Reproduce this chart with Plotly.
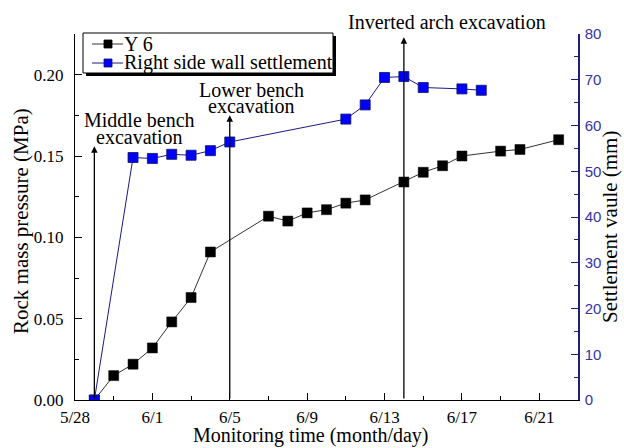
import plotly.graph_objects as go

YEAR = "2015"

# Y 6 rock mass pressure (MPa)
y6_dates = ["5/29", "5/30", "5/31", "6/1", "6/2", "6/3", "6/4", "6/7", "6/8", "6/9",
            "6/10", "6/11", "6/12", "6/14", "6/15", "6/16", "6/17", "6/19", "6/20", "6/22"]
y6_values = [0.000, 0.015, 0.022, 0.032, 0.048, 0.063, 0.091, 0.113, 0.110, 0.115,
             0.117, 0.121, 0.123, 0.134, 0.140, 0.144, 0.150, 0.153, 0.154, 0.160]

# Right side wall settlement (mm)
wall_dates = ["5/29", "5/31", "6/1", "6/2", "6/3", "6/4", "6/5", "6/11", "6/12",
              "6/13", "6/14", "6/15", "6/17", "6/18"]
wall_values = [0.0, 53.0, 52.8, 53.7, 53.5, 54.5, 56.4, 61.4, 64.5,
               70.5, 70.7, 68.3, 68.0, 67.7]

# Construction events: date and arrow tip (MPa)
event_dates = ["5/29", "6/5", "6/14"]
event_tips = [0.156, 0.175, 0.223]

series_names = ["Y 6", "Right side wall settlement"]
x_title = "Monitoring time (month/day)"
y_title = "Rock mass pressure (MPa)"
y2_title = "Settlement vaule (mm)"
x_start, x_end = "5/28", "6/23"


def to_date(md):
    m, d = md.split("/")
    return f"{YEAR}-{int(m):02d}-{int(d):02d}"


W, H = 624, 448
ML, MR, MT, MB = 75, 46, 34, 48
PW, PH = W - ML - MR, H - MT - MB


def px(x):
    return (x - ML) / PW


def py(y):
    return (H - MB - y) / PH


SERIF = "Liberation Serif, Times New Roman, serif"
NAVY = "#1f1f7a"
RIGHT_LABEL = "#3434a8"
Y6_LINE, Y6_MARK = "#333333", "black"
WALL_LINE, WALL_MARK, WALL_EDGE = "#1a1a80", "#0000ff", "#101060"

fig = go.Figure()
fig.add_trace(go.Scatter(
    x=[to_date(d) for d in y6_dates], y=y6_values, name=series_names[0],
    mode="lines+markers",
    line=dict(color=Y6_LINE, width=1),
    marker=dict(symbol="square", size=10, color=Y6_MARK, line=dict(color="black", width=0.5)),
    yaxis="y",
))
fig.add_trace(go.Scatter(
    x=[to_date(d) for d in wall_dates], y=wall_values, name=series_names[1],
    mode="lines+markers",
    line=dict(color=WALL_LINE, width=1),
    marker=dict(symbol="square", size=10, color=WALL_MARK, line=dict(color=WALL_EDGE, width=0.8)),
    yaxis="y2",
))

DAY = 86400000
fig.update_layout(
    width=W, height=H,
    margin=dict(l=ML, r=MR, t=MT, b=MB),
    paper_bgcolor="white", plot_bgcolor="white",
    font=dict(family=SERIF, size=17, color="black"),
    showlegend=False,
    xaxis=dict(
        type="date", automargin=False,
        range=[to_date(x_start), to_date(x_end)],
        tick0=to_date(x_start), dtick=4 * DAY, tickformat="%-m/%-d",
        ticks="inside", ticklen=7, tickcolor="black", tickwidth=1,
        minor=dict(ticks="inside", ticklen=4, dtick=2 * DAY, tick0=to_date(x_start), tickcolor="black"),
        showline=True, linecolor="black", linewidth=1,
        showgrid=False, zeroline=False,
        tickfont=dict(family=SERIF, size=17), ticklabelstandoff=2,
    ),
    yaxis=dict(
        automargin=False,
        range=[0, 0.225], dtick=0.05, tick0=0, tickformat=".2f",
        ticks="inside", ticklen=7, tickcolor="black",
        minor=dict(ticks="inside", ticklen=4, dtick=0.025, tickcolor="black"),
        showline=True, linecolor="black", linewidth=1,
        showgrid=False, zeroline=False,
        tickfont=dict(family=SERIF, size=17), ticklabelstandoff=7,
    ),
    yaxis2=dict(
        automargin=False,
        overlaying="y", side="right",
        range=[0, 80], dtick=10, tick0=0,
        ticks="inside", ticklen=7, tickcolor=NAVY,
        minor=dict(ticks="inside", ticklen=4, dtick=5, tickcolor=NAVY),
        showline=True, linecolor=NAVY, linewidth=1.5,
        showgrid=False, zeroline=False,
        tickfont=dict(family="Liberation Sans, Arial, sans-serif", size=15, color=RIGHT_LABEL),
        ticklabelstandoff=2,
    ),
)

# ---- axis titles ----
fig.add_annotation(x=px(311), y=py(448), xref="paper", yref="paper", showarrow=False,
                   xanchor="center", yanchor="bottom", text=x_title, borderpad=0,
                   font=dict(family=SERIF, size=20, color="black"))
fig.add_annotation(x=px(21), y=py(221), xref="paper", yref="paper", showarrow=False,
                   xanchor="center", yanchor="middle", textangle=-90, text=y_title,
                   font=dict(family=SERIF, size=21, color="black"))
fig.add_annotation(x=px(610), y=py(227), xref="paper", yref="paper", showarrow=False,
                   xanchor="center", yanchor="middle", textangle=-90, text=y2_title,
                   font=dict(family=SERIF, size=21, color="black"))

# ---- legend (box with shadow, glyphs, labels) ----
LX0, LX1, LY0, LY1 = 83, 333, 33, 73
fig.add_shape(type="rect", xref="paper", yref="paper",
              x0=px(LX0 + 3), x1=px(LX1 + 3), y0=py(LY1 + 3), y1=py(LY0 + 3),
              fillcolor="black", line=dict(width=0))
fig.add_shape(type="rect", xref="paper", yref="paper",
              x0=px(LX0), x1=px(LX1), y0=py(LY1), y1=py(LY0),
              fillcolor="white", line=dict(color="black", width=1))
rows = [(44, Y6_LINE, Y6_MARK, "black"), (63, WALL_LINE, WALL_MARK, WALL_EDGE)]
for name, (ry, lc, mc, ec) in zip(series_names, rows):
    fig.add_shape(type="line", xref="paper", yref="paper",
                  x0=px(92), x1=px(123), y0=py(ry), y1=py(ry), line=dict(color=lc, width=1))
    fig.add_shape(type="rect", xref="paper", yref="paper",
                  x0=px(104), x1=px(112), y0=py(ry + 4), y1=py(ry - 4),
                  fillcolor=mc, line=dict(color=ec, width=0.8))
    fig.add_annotation(x=px(123), y=py(ry), xref="paper", yref="paper",
                       xanchor="left", yanchor="middle", showarrow=False, text=name,
                       borderpad=0, font=dict(family=SERIF, size=20, color="black"))

# ---- event arrows ----
for d, tip in zip(event_dates, event_tips):
    fig.add_annotation(
        x=to_date(d), y=tip, ax=to_date(d), ay=0,
        xref="x", yref="y", axref="x", ayref="y",
        showarrow=True, arrowhead=2, arrowsize=1, arrowwidth=1.3, arrowcolor="black", text="",
    )

# ---- event labels ----
labels = [
    ("Middle bench", 139, 120), ("excavation", 139, 137),
    ("Lower bench", 251, 90), ("excavation", 251, 106),
    ("Inverted arch excavation", 447, 22),
]
for txt, lx, ly in labels:
    fig.add_annotation(
        x=px(lx), y=py(ly), xref="paper", yref="paper", xanchor="center",
        yanchor="middle", showarrow=False, text=txt, borderpad=0,
        font=dict(family=SERIF, size=20, color="black"),
    )

fig.write_html("out.html")
